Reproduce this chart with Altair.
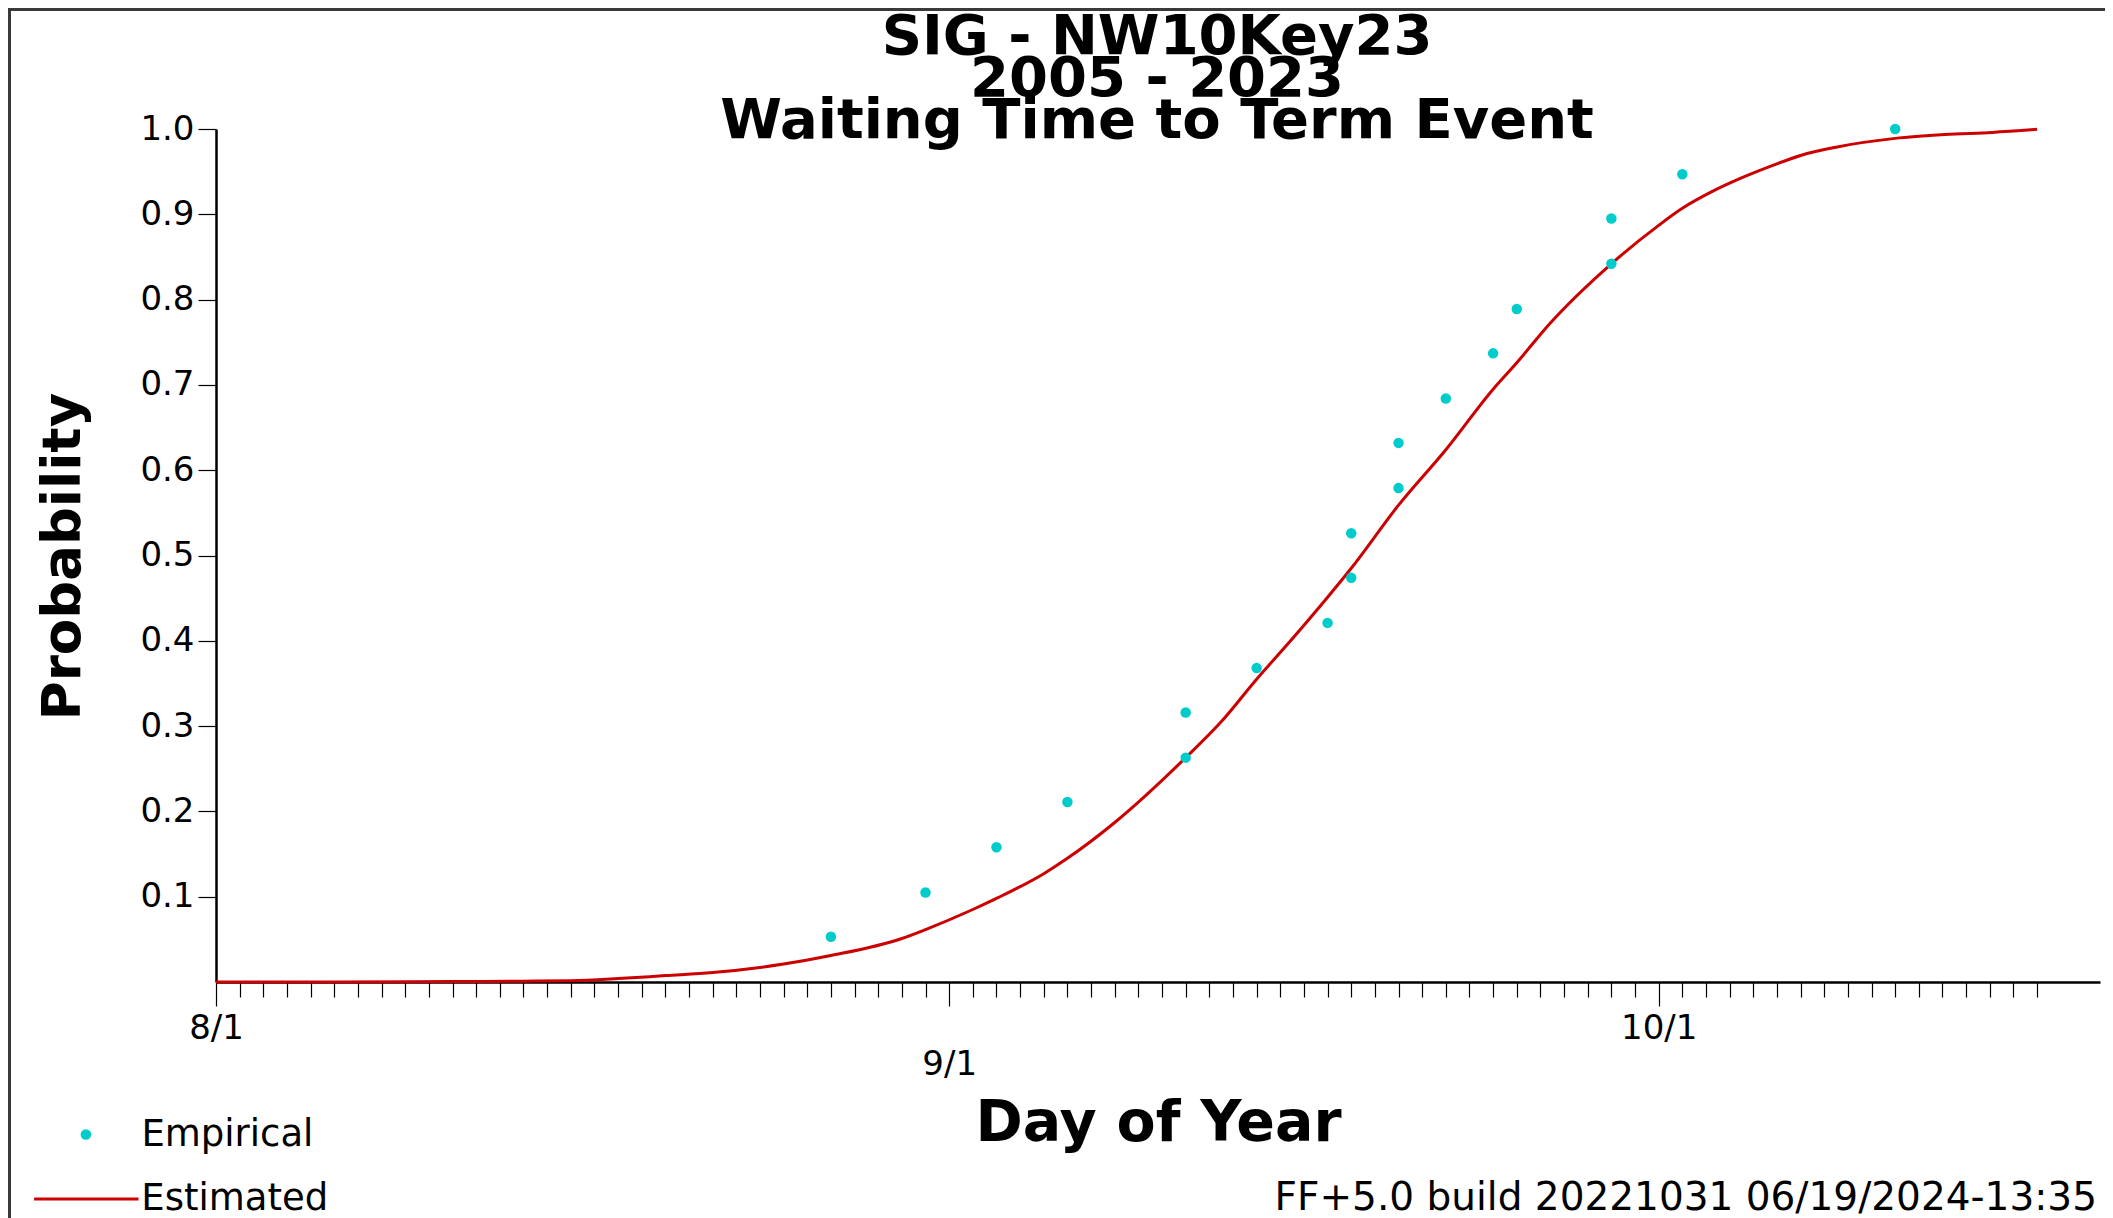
import altair as alt
import pandas as pd

# ---------------- data ----------------
title_lines = ["SIG - NW10Key23", "2005 - 2023", "Waiting Time to Term Event"]
footer_text = "FF+5.0 build 20221031 06/19/2024-13:35"
x_title = "Day of Year"
y_title = "Probability"

# empirical points (day offset from 8/1, probability)
emp_day = [26, 30, 33, 36, 41, 41, 44, 47, 48, 48, 50, 50, 52, 54, 55, 59, 59, 62, 71]
emp_prob = [0.053, 0.105, 0.158, 0.211, 0.263, 0.316, 0.368, 0.421, 0.474, 0.526,
            0.579, 0.632, 0.684, 0.737, 0.789, 0.842, 0.895, 0.947, 1.0]

# estimated curve
est_day = [0, 5, 10, 13, 15, 17, 19, 21, 23, 24, 26, 29, 30, 32, 33, 35, 36, 38, 41, 42.5,
           44, 45.5, 47, 48, 50, 52, 54, 55, 56.4, 59, 61, 62, 63.25, 64.45, 65.8, 67, 68.55,
           71, 73.1, 75.1, 77]
est_prob = [0.0, 0.0, 0.0005, 0.001, 0.0015, 0.004, 0.0075, 0.011, 0.017, 0.021, 0.031, 0.051,
            0.0615, 0.085, 0.098, 0.127, 0.145, 0.187, 0.263, 0.305, 0.355, 0.402, 0.451, 0.485,
            0.559, 0.624, 0.695, 0.726, 0.772, 0.842, 0.887, 0.907, 0.9265, 0.942, 0.957, 0.969,
            0.979, 0.989, 0.9935, 0.996, 0.9996]

minor_ticks = list(range(0, 78))
major_days = [0, 31, 61]
major_labels = ["8/1", "9/1", "10/1"]
label_row = [0, 1, 0]
y_ticks = [0.1, 0.2, 0.3, 0.4, 0.5, 0.6, 0.7, 0.8, 0.9, 1.0]
x_max = 79.66

emp_df = pd.DataFrame({"day": emp_day, "prob": emp_prob, "series": "Empirical"})
est_df = pd.DataFrame({"day": est_day, "prob": est_prob, "series": "Estimated"})
one = pd.DataFrame({"t": ["\n".join(title_lines)], "f": [footer_text]})

FONT = "DejaVu Sans"
W, H = 1884, 853
PAD_L, PAD_T, PAD_B = 208, 121, 236

days_js = "[" + ",".join(str(d) for d in major_days) + "]"
labels_js = "[" + ",".join("'" + s + "'" for s in major_labels) + "]"
label_expr = ("indexof(%s, datum.value) >= 0 ? %s[indexof(%s, datum.value)] : ''"
              % (days_js, labels_js, days_js))
major_test = "indexof(%s, datum.value) >= 0" % days_js
stagger = [d for d, r in zip(major_days, label_row) if r == 1]
stagger_test = "indexof([%s], datum.value) >= 0" % ",".join(str(d) for d in stagger)

x_scale = alt.Scale(domain=[0, x_max], nice=False, zero=False)
y_scale = alt.Scale(domain=[0, 1], nice=False)

x_axis = alt.Axis(
    values=minor_ticks,
    tickSize={"condition": {"test": major_test, "value": 24}, "value": 15},
    labelPadding={"condition": {"test": stagger_test, "value": 41}, "value": 5},
    labelExpr=label_expr,
    labelFont=FONT, labelFontSize=34, labelColor="black",
    labelOverlap=False, labelFlush=False, labelBaseline="top", labelAlign="center",
    domainColor="black", domainWidth=2.5, tickColor="black", tickWidth=1.2,
    grid=False,
    title=x_title, titleFont=FONT, titleFontSize=57, titleFontWeight="bold",
    titleColor="black", titleX=W / 2, titleY=158, titleBaseline="alphabetic",
    titleAlign="center",
)
y_axis = alt.Axis(
    values=y_ticks, format=".1f", tickSize=18, labelPadding=4,
    labelFont=FONT, labelFontSize=34, labelColor="black",
    domainColor="black", domainWidth=2.5, tickColor="black", tickWidth=1.2,
    grid=False,
    title=y_title, titleFont=FONT, titleFontSize=53, titleFontWeight="bold",
    titleColor="black", titleAngle=270, titleX=-136.5, titleY=427,
    titleBaseline="alphabetic", titleAlign="center",
)

line = alt.Chart(est_df).mark_line(strokeWidth=3, interpolate="monotone").encode(
    x=alt.X("day:Q", scale=x_scale, axis=x_axis),
    y=alt.Y("prob:Q", scale=y_scale, axis=y_axis),
    color=alt.Color("series:N",
                    scale=alt.Scale(domain=["Estimated"], range=["#CC0000"]),
                    legend=alt.Legend(title=None, orient="none", legendX=-183.7, legendY=1016,
                                      symbolType="stroke", symbolSize=10900,
                                      symbolStrokeWidth=3, labelOffset=1, padding=0,
                                      labelFont=FONT, labelFontSize=37, labelColor="black",
                                      labelLimit=500)),
)

points = alt.Chart(emp_df).mark_circle(size=110, opacity=1).encode(
    x=alt.X("day:Q", scale=x_scale, axis=x_axis),
    y=alt.Y("prob:Q", scale=y_scale, axis=y_axis),
    color=alt.Color("series:N",
                    scale=alt.Scale(domain=["Empirical"], range=["#00CCCC"]),
                    legend=alt.Legend(title=None, orient="none", legendX=-148.6, legendY=987,
                                      symbolType="circle", symbolSize=110, symbolOpacity=1,
                                      symbolStrokeWidth=0, labelOffset=37, padding=0,
                                      labelFont=FONT, labelFontSize=37, labelColor="black",
                                      labelLimit=500)),
)

title_txt = alt.Chart(one).mark_text(
    font=FONT, fontSize=56, fontWeight="bold", color="black", align="center",
    baseline="top", lineBreak="\n", lineHeight=42,
).encode(text="t:N", x=alt.value(W / 2 - 1), y=alt.value(-119.5))

footer_txt = alt.Chart(one).mark_text(
    font=FONT, fontSize=39, color="black", align="right", baseline="alphabetic",
).encode(text="f:N", x=alt.value(1881), y=alt.value(1081))

frame_top = alt.Chart(one).mark_rule(color="#3a3a3a", strokeWidth=3).encode(
    x=alt.value(-PAD_L), x2=alt.value(W + 5), y=alt.value(-PAD_T + 1.5))
frame_left = alt.Chart(one).mark_rule(color="#3a3a3a", strokeWidth=3).encode(
    x=alt.value(-PAD_L + 1.5), y=alt.value(-PAD_T), y2=alt.value(H + PAD_B))

chart = alt.layer(line, points, title_txt, footer_txt, frame_top, frame_left).resolve_scale(
    color="independent"
).properties(
    width=W, height=H,
    autosize=alt.AutoSizeParams(type="none"),
    padding={"left": PAD_L, "top": PAD_T, "right": 5, "bottom": PAD_B},
    background="white",
).configure_view(stroke=None)

chart.save("out.html", embed_options={"renderer": "svg", "actions": False})
